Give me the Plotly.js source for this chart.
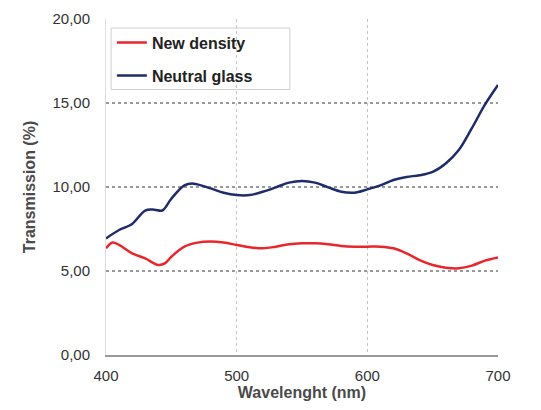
<!DOCTYPE html>
<html>
<head>
<meta charset="utf-8">
<script src="https://cdn.plot.ly/plotly-3.0.1.min.js"></script>
<style>html,body{margin:0;padding:0;background:#fff;}#chart{width:541px;height:410px;}</style>
</head>
<body>
<div id="chart"></div>
<script>
const wavelength = [400,405,410,420,430,440,445,450,460,470,480,490,500,510,520,530,540,550,560,570,580,590,600,610,620,630,640,650,660,670,680,690,700];
const newDensity = [6.35,6.7,6.55,6.05,5.75,5.36,5.45,5.85,6.45,6.69,6.75,6.69,6.55,6.41,6.35,6.45,6.59,6.65,6.65,6.59,6.49,6.45,6.45,6.45,6.35,6.05,5.65,5.36,5.2,5.16,5.32,5.62,5.81];
const wavelengthGlass = [400,410,420,430,437,443,450,460,467,480,490,500,510,520,530,540,550,560,570,580,590,600,610,620,630,640,650,660,670,680,690,700];
const neutralGlass = [6.94,7.44,7.8,8.6,8.65,8.6,9.3,10.1,10.2,9.92,9.66,9.52,9.52,9.72,9.98,10.26,10.36,10.26,9.98,9.72,9.66,9.86,10.1,10.42,10.6,10.7,10.9,11.4,12.2,13.5,14.9,16.07];
const yTicks = [0,5,10,15,20];
const xTicks = [400,500,600,700];

const traces = [
  {x: wavelength, y: newDensity, name: 'New density', type: 'scatter', mode: 'lines',
   line: {color: '#e8262c', width: 2.5, shape: 'spline', smoothing: 1}, legendgroup: 'a'},
  {x: wavelengthGlass, y: neutralGlass, name: 'Neutral glass', type: 'scatter', mode: 'lines',
   line: {color: '#1e2c6a', width: 2.5, shape: 'spline', smoothing: 1}, legendgroup: 'b'}
];

const layout = {
  width: 541, height: 410,
  margin: {l: 106, r: 43, t: 19, b: 55},
  paper_bgcolor: '#fff', plot_bgcolor: '#fff',
  separators: ', ',
  font: {family: 'Liberation Sans, Arial, sans-serif', color: '#333'},
  showlegend: true,
  legend: {x: 0.015, y: 0.98, xanchor: 'left', yanchor: 'top', bgcolor: 'rgba(0,0,0,0)', borderwidth: 0,
    font: {size: 16, family: 'Liberation Sans, Arial, sans-serif', color: '#222', weight: 'bold'},
    traceorder: 'grouped', tracegroupgap: 9},
  shapes: [{type: 'rect', xref: 'paper', yref: 'paper', x0: 0.013, x1: 0.469, y0: 0.79, y1: 0.973,
    line: {color: '#cfcfcf', width: 1}, fillcolor: 'rgba(0,0,0,0)', layer: 'below'}],
  xaxis: {range: [400, 700], tickvals: xTicks, ticktext: xTicks.map(String),
    showgrid: true, gridcolor: '#c4c4c4', griddash: 'dot', gridwidth: 1,
    showline: true, linecolor: '#999', linewidth: 2, zeroline: false, ticks: '',
    tickfont: {size: 15, color: '#333'}, ticklabelstandoff: 6,
    title: {text: 'Wavelenght (nm)', font: {size: 16, weight: 'bold', color: '#4a4a4a'}, standoff: 4}},
  yaxis: {range: [0, 20], tickvals: yTicks, tickformat: '.2f',
    showgrid: true, gridcolor: '#999', griddash: 'dot', gridwidth: 1.2,
    showline: true, linecolor: '#ddd', linewidth: 1, zeroline: false, ticks: '',
    tickfont: {size: 15, color: '#333'}, ticklabelstandoff: 12,
    title: {text: 'Transmission (%)', font: {size: 16, weight: 'bold', color: '#4a4a4a'}, standoff: 12}}
};

Plotly.newPlot('chart', traces, layout, {displayModeBar: false, staticPlot: true});
</script>
</body>
</html>
